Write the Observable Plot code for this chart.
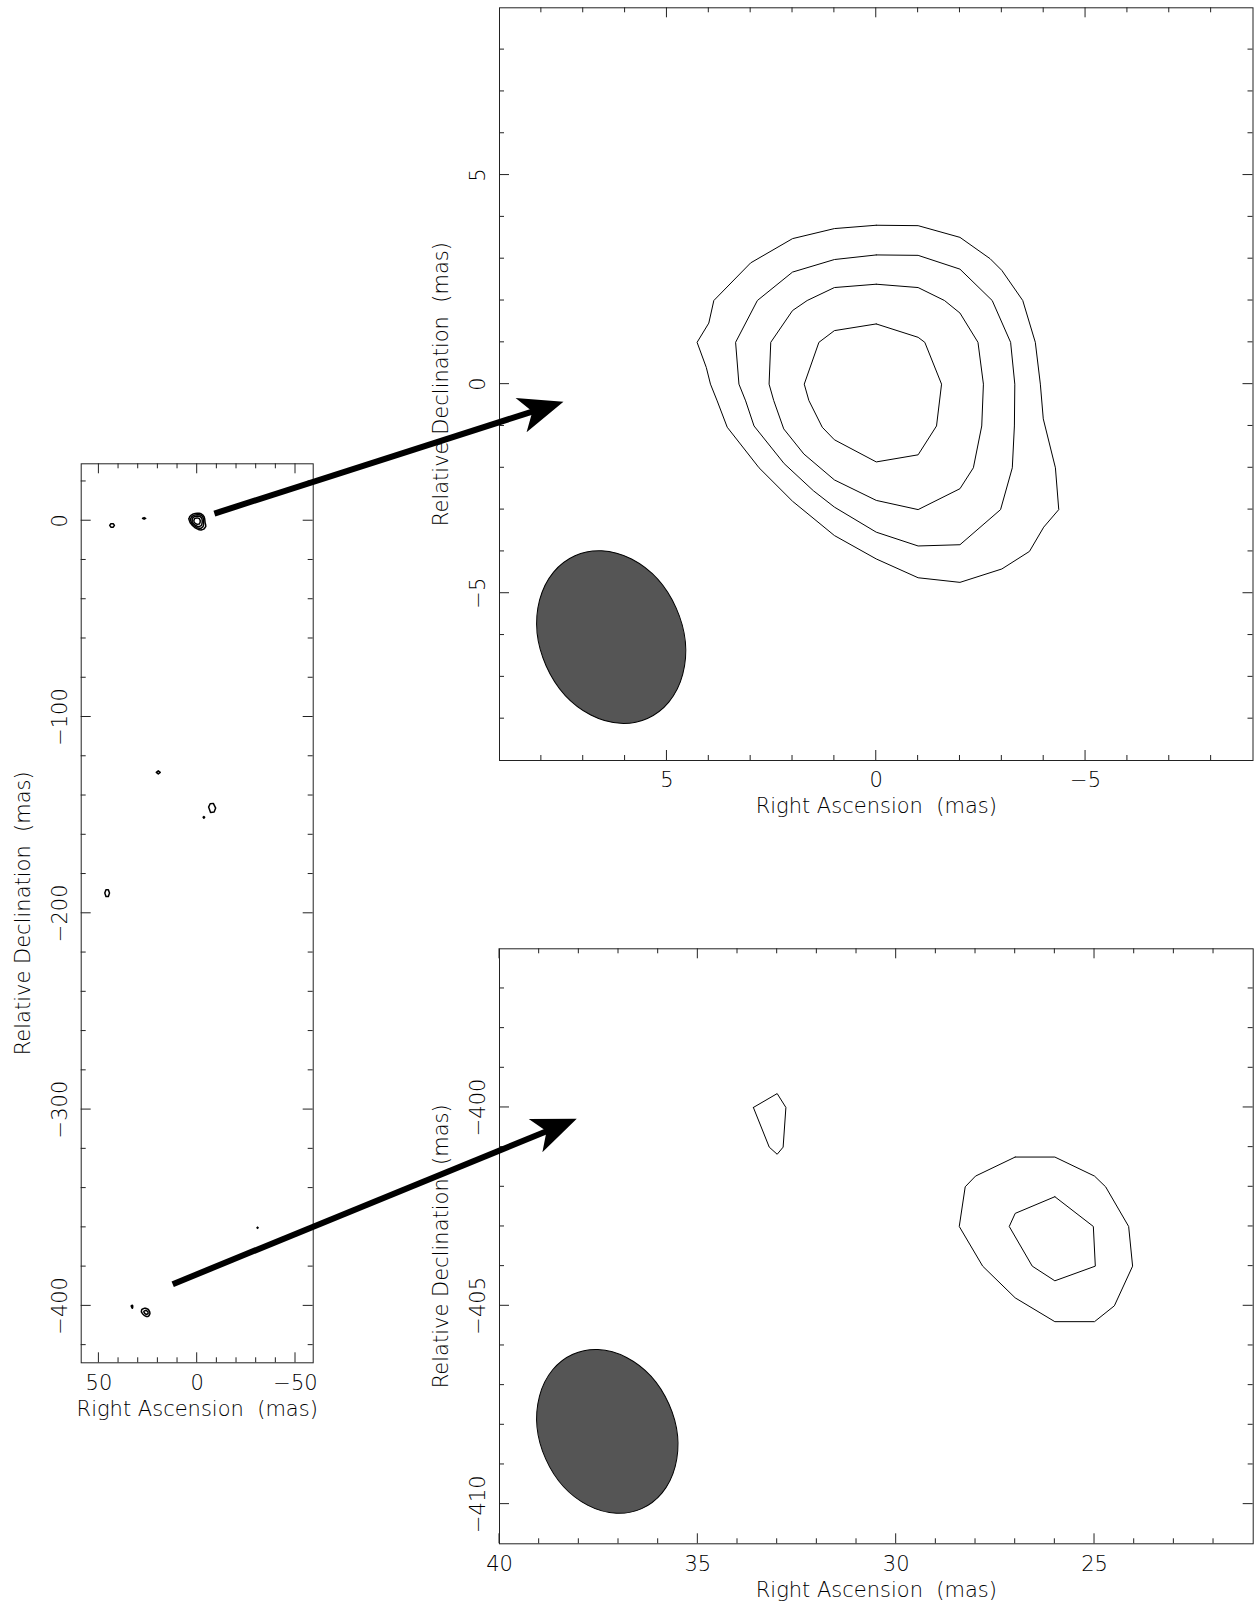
<!DOCTYPE html>
<html><head><meta charset="utf-8">
<script src="https://cdn.jsdelivr.net/npm/d3@7"></script>
<script src="https://cdn.jsdelivr.net/npm/@observablehq/plot@0.6"></script>
<style>
body{margin:0;background:#fff;}
#fig{position:relative;width:1259px;height:1609px;overflow:hidden;background:#fff;}
#fig svg{position:absolute;}
</style></head><body><div id="fig"></div><script>
// ---------- DATA ----------
// core contours (mas) — top-right zoom panel, also drawn in overview
const core1 = [[0,3.80],[-1,3.79],[-2,3.51],[-2.72,3.0],[-3,2.72],[-3.5,2.0],[-3.8,1.0],[-3.92,0],[-3.99,-0.83],[-4.28,-2.0],[-4.36,-3.0],[-4.0,-3.42],[-3.66,-4.0],[-3.0,-4.42],[-2.0,-4.74],[-1.0,-4.63],[0,-4.18],[1.0,-3.62],[2.0,-2.8],[2.8,-2.0],[3.56,-1.03],[3.8,-0.4],[3.96,0],[4.06,0.4],[4.28,1.0],[4.0,1.46],[3.88,2.0],[3.0,2.90],[2.0,3.48],[1.0,3.72]];
const core2 = [[0,3.09],[-1,3.08],[-2,2.75],[-2.77,2.0],[-3.21,1.0],[-3.31,0],[-3.3,-1.0],[-3.25,-2.0],[-2.97,-3.0],[-2.0,-3.84],[-1.0,-3.87],[0,-3.54],[1.0,-2.94],[1.5,-2.55],[2.2,-1.9],[2.92,-1.0],[3.12,-0.4],[3.28,0],[3.36,1.0],[2.84,2.0],[2.0,2.68],[1.0,2.98]];
const core3 = [[0,2.39],[-1,2.31],[-1.63,2.0],[-2,1.70],[-2.43,1.0],[-2.56,0],[-2.52,-1.0],[-2.32,-2.0],[-2.0,-2.5],[-1.0,-3.0],[0,-2.78],[1.0,-2.29],[1.73,-1.67],[2.21,-1.07],[2.45,-0.39],[2.56,0],[2.52,1.0],[2.0,1.76],[1.65,2.0],[1.0,2.31]];
const core4 = [[0,1.44],[-1,1.12],[-1.16,1.0],[-1.56,0],[-1.44,-1.0],[-1.0,-1.69],[0,-1.86],[1.0,-1.33],[1.29,-1.03],[1.61,-0.39],[1.72,0],[1.37,1.0],[1.0,1.28]];
// southern component contours (mas)
const southKnot  = [[33.6,-400],[33,-399.65],[32.78,-400],[32.85,-401],[33,-401.18],[33.2,-401]];
const southOuter = [[27,-401.25],[26,-401.25],[25,-401.73],[24.72,-402],[24.14,-403],[24.04,-404],[24.5,-405],[25,-405.4],[26,-405.4],[27,-404.8],[27.82,-404],[28.41,-403],[28.26,-402],[28,-401.73]];
const southInner = [[26,-402.25],[25.03,-403],[24.98,-404],[26,-404.37],[26.57,-404],[27.15,-403],[27,-402.67]];
// faint features seen only in the overview map (mas)
const blobA = [[44.5,-2.4],[43.9,-1.5],[42.7,-1.5],[42.1,-2.4],[42.7,-3.3],[43.9,-3.3]];
const blobB = [[27.8,1.2],[27,1.6],[26.2,1.2],[27,0.8]];
const blobC = [[20.8,-128.2],[19.8,-127.4],[18.8,-128.2],[19.8,-129]];
const blobD = [[-5.8,-145.9],[-6.6,-144.2],[-8.2,-144.0],[-9.4,-146.4],[-8.6,-148.4],[-6.8,-148.6]];
const blobE = [[-3.0,-151.1],[-3.4,-150.7],[-3.8,-151.1],[-3.4,-151.5]];
const blobF = [[47,-189.7],[46.4,-188],[45.2,-188],[44.6,-189.7],[45.2,-191.4],[46.4,-191.4]];
const blobG = [[-30.4,-360.2],[-30.7,-359.9],[-31,-360.2],[-30.7,-360.5]];
// restoring beam (semi-axes in mas, PA in deg)
const beamSemiMajor = 2.13, beamSemiMinor = 1.70, beamPA = 24;
const coreBeamCenter = [6.32, -6.06];
const southBeamCenter = [37.27, -408.18];
// axes
const overviewX = [59, -59], overviewY = [-429, 29];
const coreX = [9, -9], coreY = [-9, 9];
const southX = [40, 21], southY = [-411, -396];
const overviewXMajor = [50, 0, -50], overviewXMinor = [40,30,20,10,-10,-20,-30,-40];
const overviewYMajor = [0, -100, -200, -300, -400], overviewYMinor = [20,-20,-40,-60,-80,-120,-140,-160,-180,-220,-240,-260,-280,-320,-340,-360,-380,-420];
const coreXMajor = [5, 0, -5], coreXMinor = [8,7,6,4,3,2,1,-1,-2,-3,-4,-6,-7,-8];
const coreYMajor = [5, 0, -5], coreYMinor = [8,7,6,4,3,2,1,-1,-2,-3,-4,-6,-7,-8];
const southXMajor = [40, 35, 30, 25], southXMinor = [39,38,37,36,34,33,32,31,29,28,27,26,24,23,22];
const southYMajor = [-400, -405, -410], southYMinor = [-397,-398,-399,-401,-402,-403,-404,-406,-407,-408,-409];
const xTitle = "Right Ascension\u00a0\u00a0(mas)";
const yTitle = "Relative Declination\u00a0\u00a0(mas)";
// arrows: start in overview coords, tip in zoom-panel coords
const arrowCoreFrom = [-9.0, 3.4], arrowCoreTo = [7.46, -0.43];
const arrowSouthFrom = [12.2, -389.2], arrowSouthTo = [38.04, -400.3];

// ---------- HELPERS ----------
const FONT = "DejaVu Sans";
const fmt = d => d < 0 ? "\u2212" + Math.abs(d) : String(d);
function rows(list) {
  const out = [];
  list.forEach((pts, id) => [...pts, pts[0]].forEach(([ra, dec]) => out.push({id, ra, dec})));
  return out;
}
function ticksMark(xd, yd, xMajor, xMinor, yMajor, yMinor) {
  return (index, scales) => {
    const {x, y} = scales;
    const L = x(xd[0]), R = x(xd[1]), B = y(yd[0]), T = y(yd[1]);
    const p = d3.path();
    for (const [v, len] of [...xMajor.map(v => [v, 10]), ...xMinor.map(v => [v, 5])]) {
      const px = x(v); p.moveTo(px, T); p.lineTo(px, T + len); p.moveTo(px, B); p.lineTo(px, B - len);
    }
    for (const [v, len] of [...yMajor.map(v => [v, 10]), ...yMinor.map(v => [v, 5])]) {
      const py = y(v); p.moveTo(L, py); p.lineTo(L + len, py); p.moveTo(R, py); p.lineTo(R - len, py);
    }
    return d3.create("svg:path").attr("d", p.toString()).attr("fill", "none").attr("stroke", "#222").attr("stroke-width", 1).node();
  };
}
function beamMark(center) {
  return (index, scales) => {
    const {x, y} = scales;
    const cx = x(center[0]), cy = y(center[1]);
    const rx = Math.abs(x(center[0] + beamSemiMinor) - cx);
    const ry = Math.abs(y(center[1] + beamSemiMajor) - cy);
    return d3.create("svg:ellipse").attr("cx", cx).attr("cy", cy).attr("rx", rx).attr("ry", ry)
      .attr("transform", `rotate(${-beamPA} ${cx} ${cy})`)
      .attr("fill", "#555555").attr("stroke", "#000").attr("stroke-width", 1).node();
  };
}
function labelMarks(xMajor, yMajor) {
  const common = {fontSize: 21, fill: "#000", textAnchor: "middle", lineAnchor: "middle"};
  return [
    Plot.text(xMajor, {x: d => d, frameAnchor: "bottom", dy: 20, text: fmt, ...common}),
    Plot.text(yMajor, {y: d => d, frameAnchor: "left", dx: -21, rotate: -90, text: fmt, ...common}),
    Plot.text([xTitle], {frameAnchor: "bottom", dy: 46, text: d => d, ...common}),
    Plot.text([yTitle], {frameAnchor: "left", dx: -58, rotate: -90, text: d => d, ...common})
  ];
}
function place(chart, left, top) {
  chart.style.position = "absolute"; chart.style.left = left + "px"; chart.style.top = top + "px";
  chart.style.overflow = "visible"; chart.style.background = "transparent";
  document.getElementById("fig").appendChild(chart);
  return chart;
}
function panel(o) {
  return Plot.plot({
    width: o.width, height: o.height,
    marginLeft: o.m[0], marginRight: o.m[1], marginTop: o.m[2], marginBottom: o.m[3],
    x: {domain: o.xd, axis: null}, y: {domain: o.yd, axis: null},
    style: {fontFamily: FONT, fontWeight: 200, background: "transparent", overflow: "visible"},
    marks: o.marks
  });
}

// ---------- PANELS ----------
const overview = place(panel({
  width: 340, height: 1000, m: [80.7, 27.3, 23.3, 77.7], xd: overviewX, yd: overviewY,
  marks: [
    Plot.line(rows([core1, core2, core3, core4, southKnot, southOuter, southInner, blobA, blobB, blobC, blobD, blobE, blobF, blobG]),
      {x: "ra", y: "dec", z: "id", stroke: "#000", strokeWidth: 1.5}),
    Plot.frame({stroke: "#222", strokeWidth: 1}),
    ticksMark(overviewX, overviewY, overviewXMajor, overviewXMinor, overviewYMajor, overviewYMinor),
    ...labelMarks(overviewXMajor, overviewYMajor)
  ]
}), 0, 440);

const corePanel = place(panel({
  width: 839, height: 840, m: [79, 6.5, 7.3, 80], xd: coreX, yd: coreY,
  marks: [
    Plot.line(rows([core1, core2, core3, core4]), {x: "ra", y: "dec", z: "id", stroke: "#000", strokeWidth: 1}),
    beamMark(coreBeamCenter),
    Plot.frame({stroke: "#222", strokeWidth: 1}),
    ticksMark(coreX, coreY, coreXMajor, coreXMinor, coreYMajor, coreYMinor),
    ...labelMarks(coreXMajor, coreYMajor)
  ]
}), 420, 0);

const southPanel = place(panel({
  width: 839, height: 709, m: [79, 6.3, 48.3, 65.7], xd: southX, yd: southY,
  marks: [
    Plot.line(rows([southKnot, southOuter, southInner]), {x: "ra", y: "dec", z: "id", stroke: "#000", strokeWidth: 1}),
    beamMark(southBeamCenter),
    Plot.frame({stroke: "#222", strokeWidth: 1}),
    ticksMark(southX, southY, southXMajor, southXMinor, southYMajor, southYMinor),
    ...labelMarks(southXMajor, southYMajor)
  ]
}), 420, 900);

// ---------- ARROWS (overlay, via each panel's scales) ----------
function scaleFn(chart, name) {
  const s = chart.scale(name);
  return s.apply ? v => s.apply(v) : d3.scaleLinear(s.domain, s.range);
}
function toPage(chart, left, top, [a, b]) {
  return [left + scaleFn(chart, "x")(a), top + scaleFn(chart, "y")(b)];
}
const overlay = d3.select("#fig").append("svg").attr("width", 1259).attr("height", 1609)
  .style("left", "0px").style("top", "0px").style("pointer-events", "none");
function arrow(from, to) {
  const [x0, y0] = from, [x1, y1] = to;
  const ang = Math.atan2(y1 - y0, x1 - x0);
  const L = 48, half = 22 * Math.PI / 180, notch = 0.68 * L;
  const b1 = [x1 - L * Math.cos(ang - half), y1 - L * Math.sin(ang - half)];
  const b2 = [x1 - L * Math.cos(ang + half), y1 - L * Math.sin(ang + half)];
  const n = [x1 - notch * Math.cos(ang), y1 - notch * Math.sin(ang)];
  overlay.append("line").attr("x1", x0).attr("y1", y0).attr("x2", n[0] + 4 * Math.cos(ang)).attr("y2", n[1] + 4 * Math.sin(ang))
    .attr("stroke", "#000").attr("stroke-width", 6);
  overlay.append("path").attr("d", `M${x1},${y1}L${b1[0]},${b1[1]}L${n[0]},${n[1]}L${b2[0]},${b2[1]}Z`).attr("fill", "#000");
}
arrow(toPage(overview, 0, 440, arrowCoreFrom), toPage(corePanel, 420, 0, arrowCoreTo));
arrow(toPage(overview, 0, 440, arrowSouthFrom), toPage(southPanel, 420, 900, arrowSouthTo));
</script></body></html>
